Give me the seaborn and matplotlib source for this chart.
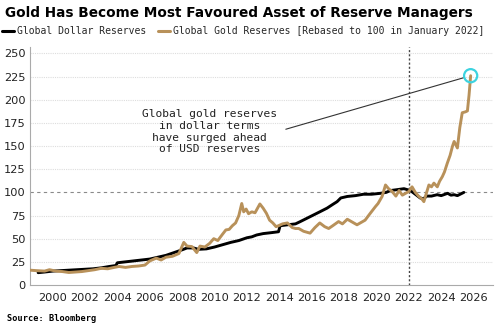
import numpy as np
import pandas as pd
import matplotlib
matplotlib.use("Agg")
import matplotlib.pyplot as plt
import seaborn as sns

# ---- data (decimal years, index rebased to 100 in Jan 2022) ----
gold_years = [1998.6, 1999.0, 1999.5, 1999.8, 2000.2, 2000.6, 2001.0, 2001.4, 2001.8, 2002.2,
              2002.6, 2003.0, 2003.4, 2003.8, 2004.1, 2004.5, 2004.9, 2005.3, 2005.7, 2006.0,
              2006.4, 2006.7, 2007.0, 2007.4, 2007.8, 2008.1, 2008.3, 2008.6, 2008.9, 2009.1,
              2009.4, 2009.7, 2009.95, 2010.2, 2010.5, 2010.7, 2010.9, 2011.1, 2011.3, 2011.5,
              2011.68, 2011.8, 2011.95, 2012.1, 2012.3, 2012.5, 2012.8, 2013.0, 2013.2, 2013.4,
              2013.6, 2013.8, 2013.95, 2014.2, 2014.5, 2014.8, 2015.0, 2015.2, 2015.5, 2015.9,
              2016.2, 2016.5, 2016.8, 2017.05, 2017.3, 2017.66, 2017.9, 2018.2, 2018.5, 2018.8,
              2019.1, 2019.3, 2019.6, 2019.94, 2020.1, 2020.35, 2020.56, 2020.75, 2020.97, 2021.2,
              2021.4, 2021.6, 2021.8, 2022.0, 2022.2, 2022.4, 2022.6, 2022.8, 2022.93, 2023.1,
              2023.24, 2023.4, 2023.55, 2023.76, 2023.9, 2024.07, 2024.2, 2024.38, 2024.55, 2024.7,
              2024.8, 2025.0, 2025.15, 2025.3, 2025.5, 2025.62, 2025.72, 2025.82]
gold_values = [16, 15.5, 15, 16.5, 15, 14.5, 13.5, 14, 14.5, 15.5,
               16.5, 18, 17.5, 19, 20, 19, 20, 20.5, 21.5, 26,
               29, 27, 30, 31, 34, 46, 42, 41.5, 35, 42,
               41, 45, 50, 48, 55, 59.5, 60, 64, 67, 75,
               88, 79, 82, 77, 79, 78, 87.5, 83, 77.5, 70,
               67, 63, 64, 66, 67, 62, 61, 61, 58, 56,
               62, 67, 63, 61, 64, 68.5, 66, 71, 68, 65,
               68, 70, 77, 84.7, 88, 95.6, 108, 104, 101, 96,
               102, 97, 99, 101, 106, 100, 96, 93, 90, 100,
               108, 106, 110, 106, 112, 117, 122, 131.7, 140, 150,
               155, 148, 170, 186, 187, 188, 205, 226]

dollar_years = [1999.1, 1999.5, 2000.0, 2000.5, 2001.0, 2001.5, 2002.0, 2002.5, 2003.0, 2003.5,
                2003.9, 2004.0, 2004.5, 2005.0, 2005.5, 2006.0, 2006.5, 2007.0, 2007.5, 2008.0,
                2008.3, 2008.7, 2009.0, 2009.5, 2010.0, 2010.5, 2011.0, 2011.5, 2012.0, 2012.3,
                2012.6, 2013.0, 2013.5, 2013.95, 2014.05, 2014.5, 2015.0, 2015.3, 2015.7, 2016.1,
                2016.5, 2016.95, 2017.3, 2017.57, 2017.8, 2018.2, 2018.7, 2019.2, 2019.7, 2020.25,
                2020.6, 2020.87, 2021.3, 2021.7, 2022.1, 2022.4, 2022.7, 2022.9, 2023.1, 2023.4,
                2023.75, 2024.0, 2024.4, 2024.6, 2024.8, 2025.0, 2025.4]
dollar_values = [13.3, 14, 15, 15.5, 16, 16.5, 17, 17.5, 18.5, 20,
                 21, 24, 25, 26, 27, 28, 30, 32, 35, 38,
                 40, 40, 38.5, 39, 41, 43.5, 46, 48, 51, 52,
                 54, 55.5, 56.5, 57.5, 64, 65, 66, 68.5, 72, 75.5,
                 79, 83, 87, 90, 94, 95.6, 96.5, 98, 98, 99,
                 100, 102, 103, 104, 102, 98, 94, 93, 96, 96,
                 97.5, 96.5, 99, 97, 97.5, 96.5, 100]

series_names = ["Global Dollar Reserves", "Global Gold Reserves [Rebased to 100 in January 2022]"]
x_ticks = list(range(2000, 2027, 2))
y_ticks = list(range(0, 251, 25))
title = "Gold Has Become Most Favoured Asset of Reserve Managers"
source = "Source: Bloomberg"
note = "Global gold reserves\nin dollar terms\nhave surged ahead\nof USD reserves"

df = pd.concat([
    pd.DataFrame({"year": dollar_years, "value": dollar_values, "series": series_names[0]}),
    pd.DataFrame({"year": gold_years, "value": gold_values, "series": series_names[1]}),
], ignore_index=True)

sns.set_theme(style="white")
plt.rcParams["font.family"] = ["DejaVu Sans"]

GOLD = "#B8915A"
palette = {series_names[0]: "black", series_names[1]: GOLD}

fig = plt.figure(figsize=(5.0, 3.31), dpi=100)
ax = fig.add_axes([0.06, 0.139, 0.926, 0.719])

# grid
for v in y_ticks[1:]:
    if v == 100:
        ax.axhline(v, color="#8a8a8a", lw=0.8, ls=(0, (3, 3)), zorder=1)
    else:
        ax.axhline(v, color="#dddddd", lw=0.8, ls=(0, (1, 1)), zorder=1)
ax.axvline(2022, color="#444444", lw=1.0, ls=(0, (1.5, 1.5)), zorder=1)

sns.lineplot(data=df, x="year", y="value", hue="series", palette=palette,
             linewidth=2.1, ax=ax, legend=True, zorder=3, sort=False)

ax.set_xlim(1998.6, 2027.2)
ax.set_ylim(0, 257)
ax.set_xticks(x_ticks)
ax.set_yticks(y_ticks)
ax.set_xlabel("")
ax.set_ylabel("")
ax.tick_params(axis="x", labelsize=8.2, colors="#222222", length=3, direction="inout",
               color="#999999", pad=4, width=0.8)
ax.tick_params(axis="y", labelsize=8.2, colors="#222222", length=0, pad=3)
for s in ["top", "right"]:
    ax.spines[s].set_visible(False)
for s in ["left", "bottom"]:
    ax.spines[s].set_color("#aaaaaa")
    ax.spines[s].set_linewidth(0.8)

# highlight circle at the latest gold value
ax.scatter([gold_years[-1]], [gold_values[-1]], s=90, facecolors="none",
           edgecolors="#3CD3E0", linewidths=1.6, zorder=5)

# annotation
ax.annotate(note, xy=(gold_years[-1], gold_values[-1]), xytext=(2009.7, 165.5),
            ha="center", va="center", fontsize=8.1, family="DejaVu Sans Mono",
            color="#222222", linespacing=1.2,
            arrowprops=dict(arrowstyle="-", color="#333333", lw=0.8,
                            relpos=(1.0, 0.5), shrinkA=4, shrinkB=5))

# legend
handles, labels = ax.get_legend_handles_labels()
ax.legend(handles, labels, loc="center left", bbox_to_anchor=(0.0, 0.906),
          bbox_transform=fig.transFigure, ncol=2, frameon=False,
          prop={"family": "DejaVu Sans Mono", "size": 7}, handlelength=1.2,
          handletextpad=0.3, columnspacing=1.3, borderaxespad=0, borderpad=0.2)
for line in ax.get_legend().get_lines():
    line.set_linewidth(2.2)

fig.text(0.01, 0.962, title, fontsize=9.8, fontweight="heavy", va="center", ha="left",
         color="black")
fig.text(0.014, 0.039, source, fontsize=6.2, fontweight="bold", family="DejaVu Sans Mono",
         va="center", ha="left", color="black")

fig.savefig("out.png", dpi=100)
